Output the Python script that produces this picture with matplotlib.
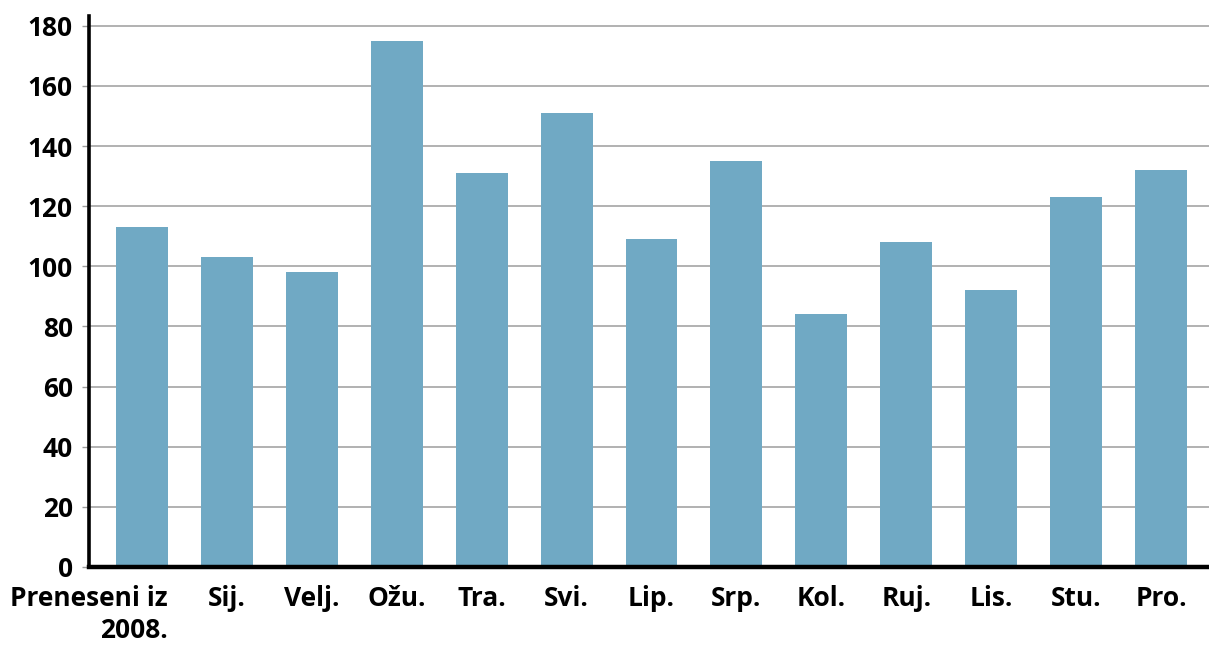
import matplotlib.pyplot as plt
import matplotlib.transforms as transforms
import numpy as np

months = ['Preneseni iz\n2008.', 'Sij.', 'Velj.', 'Ožu.', 'Tra.', 'Svi.', 'Lip.',
          'Srp.', 'Kol.', 'Ruj.', 'Lis.', 'Stu.', 'Pro.']
counts = [113, 103, 98, 175, 131, 151, 109, 135, 84, 108, 92, 123, 132]
y_ticks = list(range(0, 181, 20))

BAR_COLOR = '#70a9c4'
GRID_COLOR = '#9c9c9c'

plt.rcParams['font.family'] = ['Open Sans', 'DejaVu Sans']

fig = plt.figure(figsize=(12.09, 6.46), dpi=100)
ax = fig.add_axes([0.0736, 0.1223, 0.9264, 0.8537])

x = np.arange(len(months))
ax.bar(x, counts, width=0.612, color=BAR_COLOR, zorder=3)

ax.set_xlim(-0.624, 12.565)
ax.set_ylim(0, 183.4)
ax.set_yticks(y_ticks)
ax.set_yticklabels([str(v) for v in y_ticks], fontsize=19, fontweight='bold')
ax.set_xticks(x)
ax.set_xticklabels(months, fontsize=19, fontweight='bold', linespacing=1.25)

ax.grid(axis='y', color=GRID_COLOR, linewidth=1.1, zorder=0)
ax.tick_params(axis='y', length=5, width=1, color=GRID_COLOR, pad=6.5)
ax.tick_params(axis='x', length=0, pad=13)

for side in ['top', 'right']:
    ax.spines[side].set_visible(False)
ax.spines['left'].set_linewidth(2.6)
ax.spines['bottom'].set_linewidth(3.2)
ax.spines['left'].set_zorder(4)
ax.spines['bottom'].set_zorder(4)

# first label is pushed right and right-aligned, like the original
first = ax.get_xticklabels()[0]
first.set_horizontalalignment('right')
first.set_multialignment('right')
first.set_transform(first.get_transform() + transforms.ScaledTranslation(26 / 100, 0, fig.dpi_scale_trans))

plt.savefig('out.png', dpi=100)
